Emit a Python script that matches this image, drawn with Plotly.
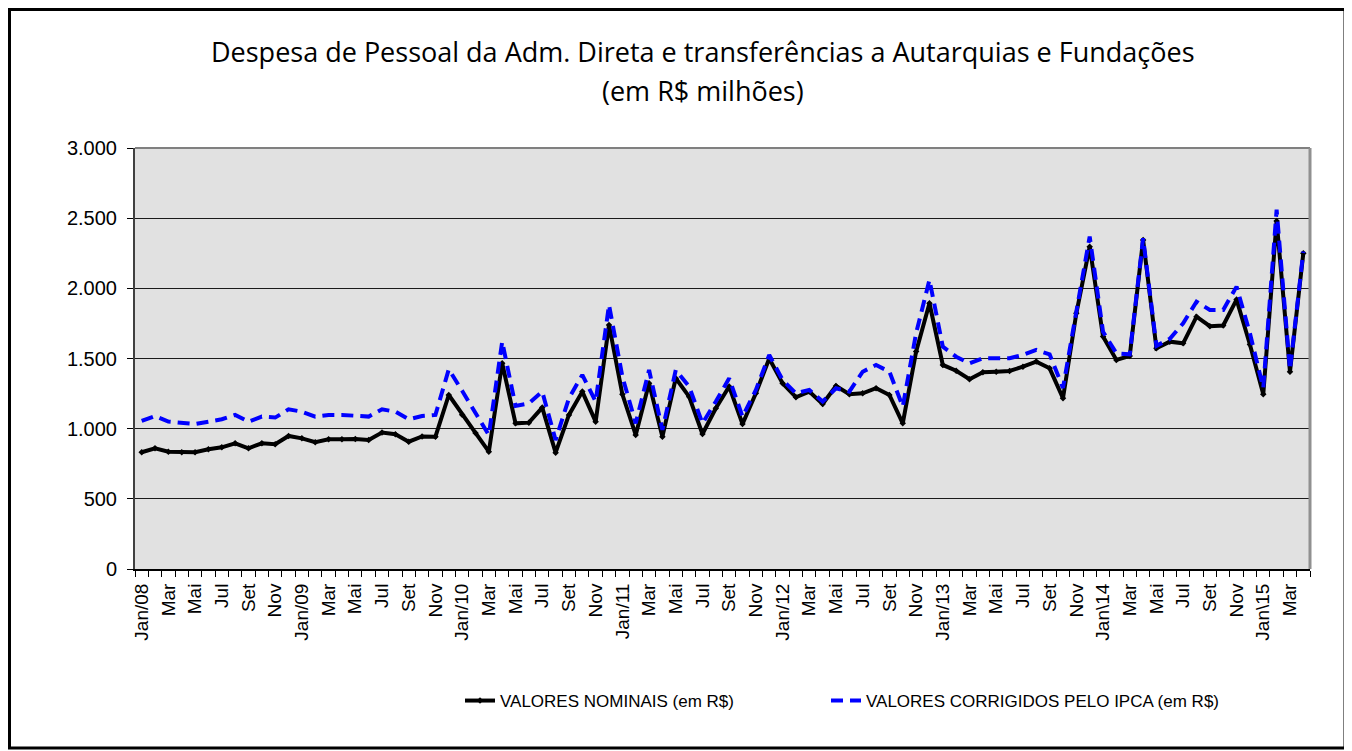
import plotly.graph_objects as go

# ---- data (R$ milhões), Jan/2008 .. Apr/2015 ----
months = ["Jan", "Fev", "Mar", "Abr", "Mai", "Jun", "Jul", "Ago", "Set", "Out", "Nov", "Dez"]
years = ["08", "09", "10", "11", "12", "13", "14", "15"]
categories = [f"{m}/{y}" for y in years for m in months][:88]

nominais = [
    832, 860, 836, 832, 832, 853, 867, 896, 860, 896, 889, 948,
    931, 903, 924, 924, 927, 919, 972, 960, 907, 945, 943, 1240,
    1100, 970, 836, 1466, 1038, 1043, 1150, 829, 1098, 1264, 1050, 1739,
    1245, 955, 1323, 943, 1359, 1228, 962, 1145, 1300, 1033, 1252, 1500,
    1323, 1224, 1264, 1176, 1304, 1245, 1252, 1288, 1240, 1038, 1549, 1894,
    1454, 1413, 1352, 1402, 1406, 1411, 1442, 1478, 1430, 1217, 1822, 2297,
    1656, 1490, 1518, 2345, 1573, 1620, 1608, 1798, 1730, 1735, 1920, 1600,
    1245, 2480, 1406, 2250,
]
corrigidos = [
    1055, 1090, 1050, 1038, 1033, 1050, 1067, 1098, 1050, 1086, 1079, 1138,
    1121, 1086, 1098, 1098, 1095, 1086, 1138, 1121, 1067, 1090, 1098, 1423,
    1270, 1110, 955, 1620, 1162, 1181, 1264, 919, 1217, 1383, 1193, 1882,
    1371, 1038, 1418, 991, 1418, 1300, 1038, 1193, 1359, 1086, 1276, 1525,
    1347, 1252, 1276, 1193, 1288, 1264, 1406, 1454, 1406, 1157, 1680, 2060,
    1584, 1513, 1466, 1502, 1502, 1502, 1525, 1561, 1530, 1290, 1834, 2369,
    1691, 1537, 1530, 2357, 1590, 1640, 1751, 1905, 1846, 1846, 2012, 1680,
    1290, 2560, 1420, 2262,
]

tick_labels = [
    "Jan/08", "Mar", "Mai", "Jul", "Set", "Nov",
    "Jan/09", "Mar", "Mai", "Jul", "Set", "Nov",
    "Jan/10", "Mar", "Mai", "Jul", "Set", "Nov",
    "Jan/11", "Mar", "Mai", "Jul", "Set", "Nov",
    "Jan/12", "Mar", "Mai", "Jul", "Set", "Nov",
    "Jan/13", "Mar", "Mai", "Jul", "Set", "Nov",
    "Jan\\14", "Mar", "Mai", "Jul", "Set", "Nov",
    "Jan\\15", "Mar",
]

x = list(range(len(categories)))
tick_pos = list(range(0, len(categories), 2))

# page has an 8px body margin: figure sits at (8, 8)
OFF = 8
W, H = 1352 - OFF, 751 - OFF
# plot area in page pixels
L, R, T, B = 135, 1310, 148, 569


def px(xp):
    return (xp - L) / (R - L)


def py(yp):
    return (B - yp) / (B - T)


fig = go.Figure()
fig.add_trace(go.Scatter(
    x=x, y=nominais, customdata=categories, name="VALORES NOMINAIS (em R$)",
    mode="lines+markers", legend="legend",
    line=dict(color="#000000", width=4),
    marker=dict(symbol="diamond", size=5, color="#000000"),
    hovertemplate="%{customdata}: %{y}<extra></extra>",
))
fig.add_trace(go.Scatter(
    x=x, y=corrigidos, customdata=categories, name="VALORES CORRIGIDOS PELO IPCA (em R$)",
    mode="lines", legend="legend2",
    line=dict(color="#0000FF", width=4, dash="12px,7px"),
    hovertemplate="%{customdata}: %{y}<extra></extra>",
))

axis_font = dict(family="Liberation Sans, Arial, sans-serif", size=20, color="#000000")
title_font = dict(family="Open Sans, sans-serif", size=27, color="#000000")
legend_font = dict(family="Liberation Sans, Arial, sans-serif", size=17, color="#000000")

fig.update_layout(
    width=W, height=H,
    margin=dict(l=L - OFF, r=W - (R - OFF), t=T - OFF, b=H - (B - OFF), pad=0),
    paper_bgcolor="#FFFFFF",
    plot_bgcolor="#E1E1E1",
    separators=",.",
    showlegend=True,
    legend=dict(
        orientation="h", x=px(460), y=py(701), xanchor="left", yanchor="middle",
        font=legend_font, bgcolor="rgba(0,0,0,0)",
    ),
    legend2=dict(
        orientation="h", x=px(826), y=py(701), xanchor="left", yanchor="middle",
        font=legend_font, bgcolor="rgba(0,0,0,0)",
    ),
    xaxis=dict(
        range=[-0.5, len(categories) - 0.5],
        tickmode="array", tickvals=tick_pos, ticktext=tick_labels,
        tickangle=-90, ticks="", tickfont=dict(axis_font, size=19),
        showgrid=False, zeroline=False,
        showline=True, linecolor="#000000", linewidth=2,
        minor=dict(tickmode="linear", tick0=-0.5, dtick=1, ticks="outside",
                   ticklen=6, tickwidth=1, tickcolor="#000000", showgrid=False),
        ticklabelstandoff=5,
    ),
    yaxis=dict(
        range=[0, 3000], dtick=500, tick0=0, tickformat=",d",
        ticks="outside", ticklen=6, tickwidth=1, tickcolor="#000000",
        tickfont=axis_font, ticklabelstandoff=6,
        showgrid=True, gridcolor="#1a1a1a", gridwidth=1,
        zeroline=False, showline=True, linecolor="#404040", linewidth=2,
    ),
    shapes=[
        # plot area top/right border
        dict(type="line", xref="paper", yref="paper", x0=0, x1=1, y0=1, y1=1,
             line=dict(color="#808080", width=2)),
        dict(type="line", xref="paper", yref="paper", x0=1, x1=1, y0=0, y1=1,
             line=dict(color="#909090", width=3)),
        # outer chart border
        dict(type="rect", xref="paper", yref="paper",
             x0=px(OFF + 1.5), x1=px(1345), y0=py(OFF + 1.5), y1=py(748),
             line=dict(color="#000000", width=3)),
    ],
    annotations=[
        dict(text="Despesa de Pessoal da Adm. Direta e transferências a Autarquias e Fundações",
             xref="paper", yref="paper", x=px(703), y=py(52), xanchor="center", yanchor="middle",
             showarrow=False, font=title_font),
        dict(text="(em R$ milhões)",
             xref="paper", yref="paper", x=px(703), y=py(90), xanchor="center", yanchor="middle",
             showarrow=False, font=title_font),
    ],
)

fig.write_html("out.html")
